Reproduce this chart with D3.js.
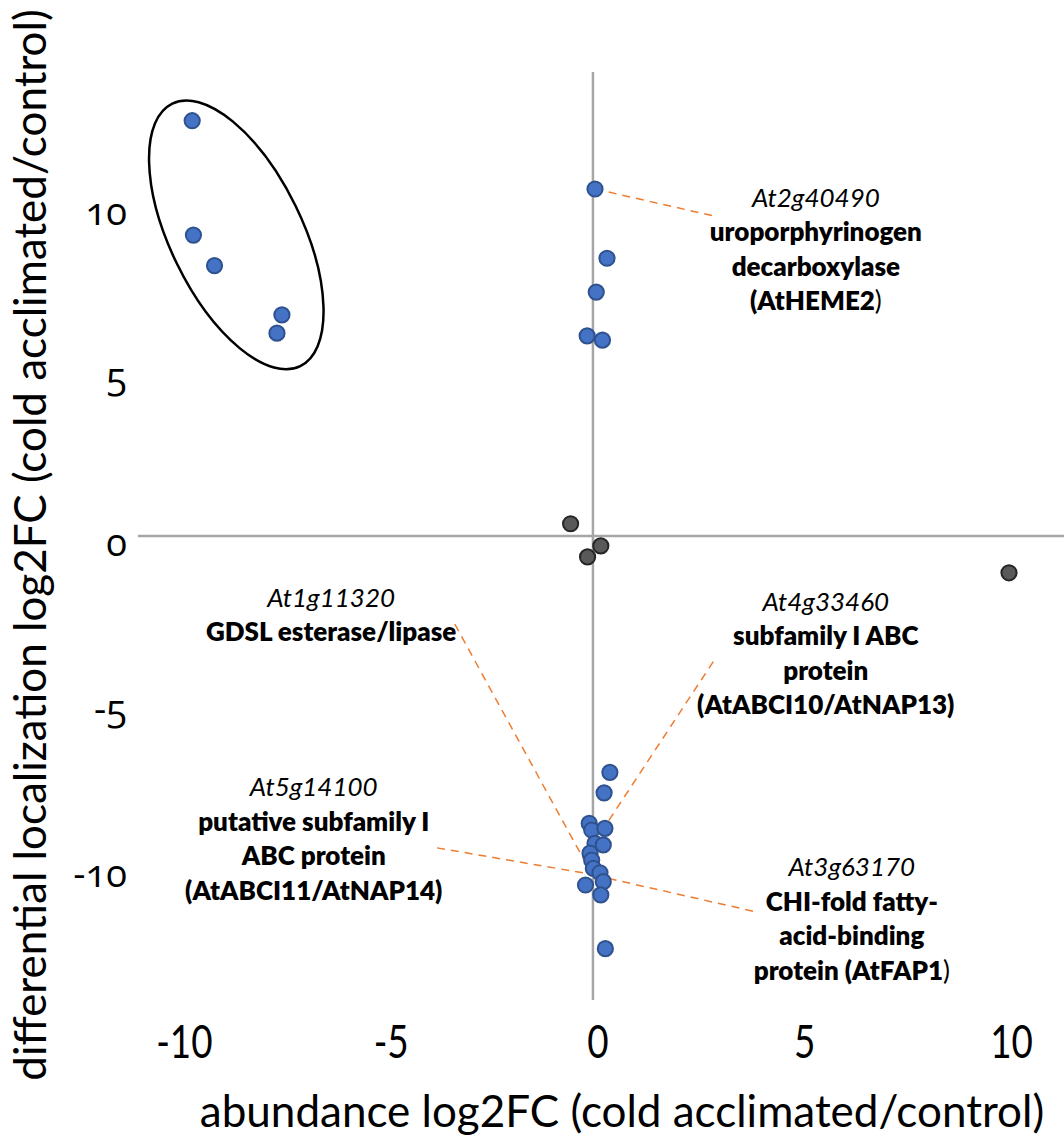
<!DOCTYPE html>
<html>
<head>
<meta charset="utf-8">
<script src="https://cdn.jsdelivr.net/npm/d3@7/dist/d3.min.js"></script>
<style>
  body { margin: 0; background: #fff; }
  text { font-family: Lato, "Open Sans", sans-serif; fill: #000; }
  .tick-label { font-size: 46px; }
  .ytick-label { font-family: "Open Sans", Lato, sans-serif; font-size: 38px; font-variant-numeric: oldstyle-nums; }
  .axis-title { font-size: 44px; }
  .gene-id { font-size: 26px; font-style: italic; }
  .gene-desc { font-size: 26px; font-weight: 800; }
</style>
</head>
<body>
<div id="chart"></div>
<script>
const width = 1064;
const height = 1148;

// clustered points (circled group)
const circledAbundance = [-9.69, -9.66, -9.15, -7.52, -7.64];
const circledLocalization = [12.53, 9.08, 8.16, 6.67, 6.12];

// blue points near x = 0
const blueAbundance = [0.05, 0.34, 0.08, -0.14, 0.23,
  0.41, 0.27, -0.09, -0.03, 0.29, 0.05, 0.25, -0.07, -0.03, 0.01, 0.17, 0.25, -0.18, 0.19, 0.30];
const blueLocalization = [10.47, 8.38, 7.36, 6.04, 5.91,
  -7.13, -7.75, -8.67, -8.87, -8.82, -9.27, -9.32, -9.57, -9.78, -10.03, -10.16, -10.43, -10.53, -10.83, -12.45];

// dark grey points
const greyAbundance = [-0.54, 0.19, -0.13, 10.06];
const greyLocalization = [0.37, -0.30, -0.63, -1.11];

const xTicks = [-10, -5, 0, 5, 10];
const yTicks = [-10, -5, 0, 5, 10];

const geneIds = ["At2g40490", "At1g11320", "At4g33460", "At5g14100", "At3g63170"];
const geneNames = [
  ["uroporphyrinogen", "decarboxylase", "(AtHEME2|)"],
  ["GDSL esterase/lipase"],
  ["subfamily I ABC", "protein", "(AtABCI10/AtNAP13)"],
  ["putative subfamily I", "ABC protein", "(AtABCI11/AtNAP14)"],
  ["CHI-fold fatty-", "acid-binding", "protein (AtFAP1|)"]
];

// label anchors (data units): centre x, first baseline y
const labelX = [5.39, -6.33, 5.63, -6.75, 6.26];
const labelY = [9.93, -2.14, -2.26, -7.85, -10.26];

// leader lines (data units)
const leaderFrom = [[0.05, 10.47], [-3.34, -2.66], [2.91, -3.79], [-3.77, -9.41], [3.87, -11.32]];
const leaderTo = [[2.91, 9.66], [-0.12, -9.99], [0.17, -8.99], [0.07, -10.23], [0.12, -10.26]];

const svg = d3.select("#chart")
  .append("svg")
  .attr("width", width)
  .attr("height", height);

svg.append("rect")
  .attr("width", width)
  .attr("height", height)
  .attr("fill", "#fff");

const xScale = d3.scaleLinear()
  .domain([-11, 11.39])
  .range([138, 1064]);

const yScale = d3.scaleLinear()
  .domain([-14, 14])
  .range([1000, 72]);

// axes through zero
svg.append("line")
  .attr("x1", xScale(-11))
  .attr("x2", xScale(11.39))
  .attr("y1", yScale(0))
  .attr("y2", yScale(0))
  .attr("stroke", "#a6a6a6")
  .attr("stroke-width", 2.5);

svg.append("line")
  .attr("x1", xScale(0))
  .attr("x2", xScale(0))
  .attr("y1", yScale(14))
  .attr("y2", yScale(-14))
  .attr("stroke", "#a6a6a6")
  .attr("stroke-width", 2.5);

// tick labels (narrow, like the original's Calibri)
svg.selectAll(".tick-label")
  .data(xTicks)
  .enter()
  .append("text")
  .attr("class", "tick-label")
  .attr("transform", d => `translate(${xScale(d) + 5}, 1058) scale(0.8, 1)`)
  .attr("text-anchor", "middle")
  .text(d => d);

svg.selectAll(".ytick-label")
  .data(yTicks)
  .enter()
  .append("text")
  .attr("class", "ytick-label")
  .attr("x", 127)
  .attr("y", d => yScale(d) + 5)
  .attr("text-anchor", "end")
  .attr("dominant-baseline", "central")
  .text(d => d);

// axis titles
svg.append("text")
  .attr("class", "axis-title")
  .attr("x", 622)
  .attr("y", 1127)
  .attr("text-anchor", "middle")
  .text("abundance log2FC (cold acclimated/control)");

svg.append("text")
  .attr("class", "axis-title")
  .attr("transform", "translate(46, 545) rotate(-90)")
  .attr("text-anchor", "middle")
  .text("differential localization log2FC (cold acclimated/control)");

// leader lines
svg.selectAll(".leader")
  .data(leaderFrom)
  .enter()
  .append("line")
  .attr("class", "leader")
  .attr("x1", d => xScale(d[0]))
  .attr("y1", d => yScale(d[1]))
  .attr("x2", (d, i) => xScale(leaderTo[i][0]))
  .attr("y2", (d, i) => yScale(leaderTo[i][1]))
  .attr("stroke", "#ed7d31")
  .attr("stroke-width", 1.5)
  .attr("stroke-dasharray", "8,6");

// points
const blue = blueAbundance.map((x, i) => ({x: x, y: blueLocalization[i]}))
  .concat(circledAbundance.map((x, i) => ({x: x, y: circledLocalization[i]})));
const grey = greyAbundance.map((x, i) => ({x: x, y: greyLocalization[i]}));

svg.selectAll(".blue-dot")
  .data(blue)
  .enter()
  .append("circle")
  .attr("class", "blue-dot")
  .attr("cx", d => xScale(d.x))
  .attr("cy", d => yScale(d.y))
  .attr("r", 7.6)
  .attr("fill", "#4472c4")
  .attr("stroke", "#2f528f")
  .attr("stroke-width", 2);

svg.selectAll(".grey-dot")
  .data(grey)
  .enter()
  .append("circle")
  .attr("class", "grey-dot")
  .attr("cx", d => xScale(d.x))
  .attr("cy", d => yScale(d.y))
  .attr("r", 7.6)
  .attr("fill", "#595959")
  .attr("stroke", "#262626")
  .attr("stroke-width", 2);

// ellipse round the circled group
const cx = d3.mean(circledAbundance);
const cy = d3.mean(circledLocalization);
svg.append("ellipse")
  .attr("transform", `translate(${xScale(cx) + 4.5}, ${yScale(cy) - 19}) rotate(64)`)
  .attr("rx", 146)
  .attr("ry", 66)
  .attr("fill", "none")
  .attr("stroke", "#000")
  .attr("stroke-width", 2.5);

// gene annotations
geneIds.forEach(function(id, i) {
  const x = xScale(labelX[i]);
  const y = yScale(labelY[i]);

  svg.append("text")
    .attr("class", "gene-id")
    .attr("x", x)
    .attr("y", y)
    .attr("text-anchor", "middle")
    .text(id);

  geneNames[i].forEach(function(line, j) {
    const parts = line.split("|");
    const t = svg.append("text")
      .attr("class", "gene-desc")
      .attr("x", x)
      .attr("y", y + 34.5 * (j + 1))
      .attr("text-anchor", "middle");
    t.append("tspan").text(parts[0]);
    if (parts.length > 1) {
      t.append("tspan").style("font-weight", "normal").text(")");
    }
  });
});
</script>
</body>
</html>
